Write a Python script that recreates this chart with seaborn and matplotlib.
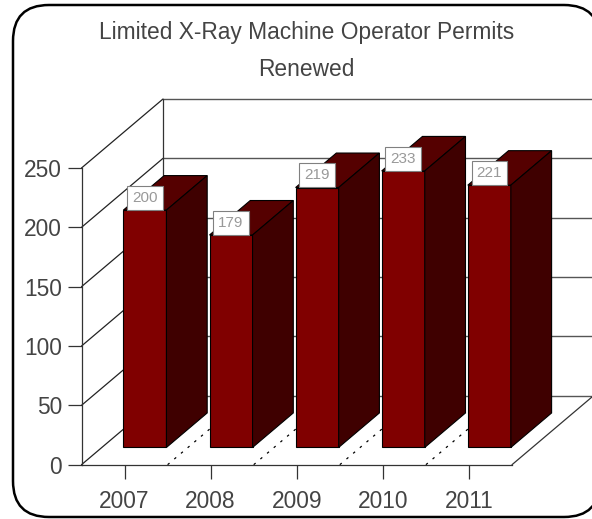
import numpy as np
import pandas as pd
import seaborn as sns
import matplotlib.pyplot as plt
from matplotlib.patches import FancyBboxPatch, Polygon

years = ["2007", "2008", "2009", "2010", "2011"]
permits = [200, 179, 219, 233, 221]
y_ticks = [0, 50, 100, 150, 200, 250]
title_lines = ["Limited X-Ray Machine Operator Permits", "Renewed"]

W, H = 592, 519
# pixel box of the front plane
PX_LEFT, PX_RIGHT, PX_BOTTOM, PX_TOP = 81.5, 512.0, 464.7, 168.0
# how far the back wall is pushed, in data units
DEPTH_X = 81.5 / ((PX_RIGHT - PX_LEFT) / 5)
DEPTH_Y = 69.0 / ((PX_BOTTOM - PX_TOP) / 250)
TEXT = "#444444"

sns.set_style("white")
plt.rcParams["font.family"] = ["Liberation Sans", "DejaVu Sans"]


def project(x, y, depth):
    """Oblique projection of a point lying depth (0..1) behind the front plane."""
    return x + depth * DEPTH_X, y + depth * DEPTH_Y


fig = plt.figure(figsize=(W / 100, H / 100), dpi=100)
fig.add_artist(
    FancyBboxPatch(
        (0.13 + 0.36, 0.02 + 0.36),
        6.0 - 0.13 - 0.72,
        5.14 - 0.02 - 0.72,
        boxstyle="round,pad=0.36,rounding_size=0.36",
        transform=fig.dpi_scale_trans,
        facecolor="white",
        edgecolor="black",
        linewidth=1.8,
        zorder=-1,
    )
)

ax = fig.add_axes(
    [
        PX_LEFT / W,
        (H - PX_BOTTOM) / H,
        (PX_RIGHT - PX_LEFT) / W,
        (PX_BOTTOM - PX_TOP) / H,
    ]
)
ax.patch.set_alpha(0)

df = pd.DataFrame({"year": years, "permits": permits})
sns.barplot(
    data=df,
    x="year",
    y="permits",
    ax=ax,
    color="#800000",
    saturation=1,
    width=0.5,
    edgecolor="black",
    linewidth=0.8,
    zorder=3,
)
ax.set_xlim(-0.5, 4.5)
ax.set_ylim(0, 250)
ax.set_xlabel("")
ax.set_ylabel("")
ax.set_yticks(y_ticks)
ax.tick_params(axis="both", length=10, width=0.9, color="#333333",
               labelsize=16.4, labelcolor=TEXT, pad=4, left=True, bottom=True)
ax.tick_params(axis="x", pad=8)
sns.despine(ax=ax)
for side in ["left", "bottom"]:
    ax.spines[side].set_linewidth(0.9)
    ax.spines[side].set_color("#333333")

# walls and floor
x0, x1 = ax.get_xlim()
for tick in y_ticks:
    bx, by = project(x0, tick, 1)
    ax.plot([x0, bx], [tick, by], color="#222222", lw=0.9, clip_on=False, zorder=1)
    ex, _ = project(x1, tick, 1)
    ax.plot([bx, ex + 1], [by, by], color="#555555", lw=1.0, clip_on=False, zorder=1)
bx, top_y = project(x0, 250, 1)
_, base_y = project(x0, 0, 1)
ax.plot([bx, bx], [base_y, top_y], color="#333333", lw=0.9, clip_on=False, zorder=1)
ex, ey = project(x1, 0, 1)
ax.plot([x1, ex], [0, ey], color="#333333", lw=0.9, clip_on=False, zorder=2)

# dotted floor lines between the categories
for i in range(len(years) - 1):
    fx = i + 0.5
    dx, dy = project(fx, 0, 1)
    ax.plot([fx, dx], [0, dy], color="black", lw=0.9, ls=(0, (2, 5)),
            clip_on=False, zorder=2)

# bars: the seaborn faces are pushed back, then top and side are added
bar_depth = 0.5
for patch, value in zip(ax.patches[: len(permits)], permits):
    left = patch.get_x() + 0.25 * DEPTH_X
    base = 0.25 * DEPTH_Y
    patch.set_x(left)
    patch.set_y(base)
    patch.set_clip_on(False)
    right = left + patch.get_width()
    top = base + value
    off_x, off_y = bar_depth * DEPTH_X, bar_depth * DEPTH_Y
    ax.add_patch(
        Polygon(
            [(left, top), (right, top), (right + off_x, top + off_y), (left + off_x, top + off_y)],
            closed=True, facecolor="#550000", edgecolor="black", lw=0.8,
            clip_on=False, zorder=3,
        )
    )
    ax.add_patch(
        Polygon(
            [(right, base), (right + off_x, base + off_y), (right + off_x, top + off_y), (right, top)],
            closed=True, facecolor="#3f0000", edgecolor="black", lw=0.8,
            clip_on=False, zorder=3,
        )
    )
    ax.annotate(
        str(value),
        xy=((left + right) / 2, top),
        xytext=(0, 3.8),
        textcoords="offset points",
        ha="center",
        va="bottom",
        fontsize=11,
        color="#999999",
        zorder=5,
        annotation_clip=False,
        bbox=dict(boxstyle="square,pad=0.33", facecolor="white", edgecolor="#808080", lw=0.8),
    )

for line, ypx in zip(title_lines, [33, 70]):
    fig.text(306.5 / W, 1 - ypx / H, line, ha="center", va="center",
             fontsize=16.4, color=TEXT)

fig.savefig("out.png", dpi=100)
